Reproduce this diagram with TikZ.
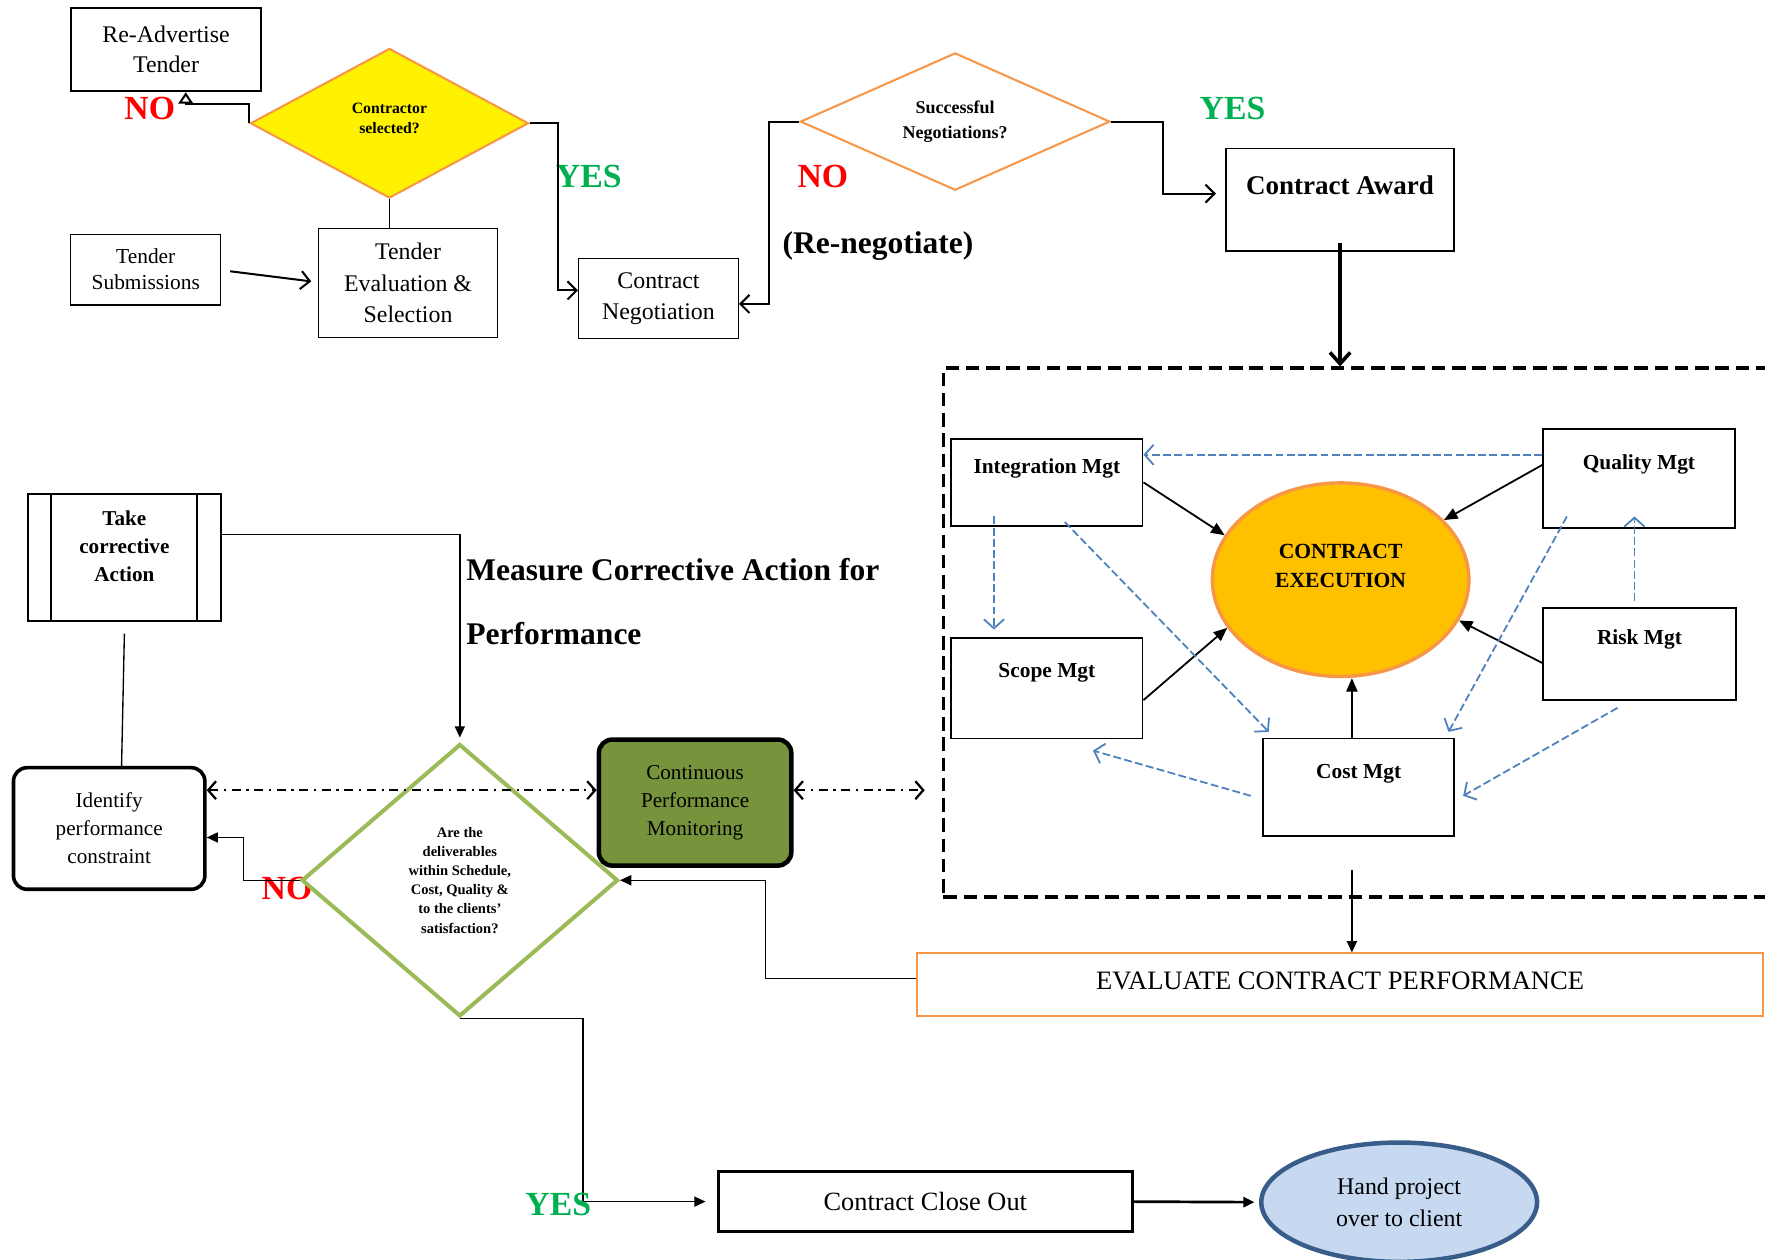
\documentclass[tikz,border=0pt]{standalone}
\usepackage{fontspec}
\setmainfont{Liberation Serif}
\usetikzlibrary{shapes.geometric,arrows.meta,calc}
\definecolor{orng}{HTML}{F79646}
\definecolor{gold}{HTML}{FFC000}
\definecolor{grn}{HTML}{00B050}
\definecolor{olive}{HTML}{77933C}
\definecolor{lgreen}{HTML}{9BBB59}
\definecolor{bluel}{HTML}{4F81BD}
\definecolor{lblue}{HTML}{C6D9F1}
\definecolor{dblue}{HTML}{385D8A}
\newcommand{\fsz}[2]{\fontsize{#1}{#2}\selectfont}
\begin{document}
\begin{tikzpicture}[x=0.5pt,y=-0.5pt,
  box/.style={draw, line width=0.8pt, inner sep=0pt, align=center},
  thinbox/.style={box, line width=0.5pt},
  txt/.style={inner sep=0pt, align=center},
  mgt/.style={txt, font=\bfseries\fsz{9.5}{11}},
  barb/.style={line width=0.9pt, -{Straight Barb[length=4pt,width=8pt]}},
  farrow/.style={line width=0.6pt, -{Triangle[length=5pt,width=4.5pt]}},
  iarrow/.style={line width=0.8pt, -{Triangle[length=6pt,width=5pt]}},
  bdash/.style={bluel, line width=0.8pt, dash pattern=on 3.5pt off 1.5pt, -{Straight Barb[length=4pt,width=9pt]}},
  ddot/.style={line width=1pt, dash pattern=on 4pt off 2.5pt on 1pt off 2.5pt, {Straight Barb[length=3.5pt,width=8pt]}-{Straight Barb[length=3.5pt,width=8pt]}},
  yes/.style={txt, text=grn, font=\bfseries\fsz{15}{15}},
  no/.style={txt, text=red, font=\bfseries\fsz{15}{15}},
]
\useasboundingbox (0,0) rectangle (1568,1119);
\clip (0,0) rectangle (1568,1119);

% ---------- top row ----------
\node[box, line width=1pt, minimum width=84.5pt, minimum height=37pt, font=\fsz{10.6}{13.5}] (readv) at (147.5,44) {Re-Advertise\\Tender};
\node[diamond, shape aspect=1.86, draw=orng, fill=yellow, line width=0.9pt, inner sep=0pt, minimum width=123.5pt, minimum height=66.5pt] (csel) at (346,109.5) {};
\node[txt, font=\bfseries\fsz{7}{9}] (cselt) at (346,105) {Contractor\\selected?};
\node[thinbox, minimum width=66.5pt, minimum height=31.5pt, font=\fsz{9.5}{11.5}] (tsub) at (129.5,239.5) {Tender\\Submissions};
\node[thinbox, minimum width=79.5pt, minimum height=48.5pt, font=\fsz{10.6}{14}] (teval) at (362.5,251.5) {Tender\\Evaluation \&\\Selection};
\node[thinbox, minimum width=71pt, minimum height=35.5pt, font=\fsz{10.6}{14}] (cneg) at (585,265.5) {Contract\\Negotiation};
\node[diamond, shape aspect=2.25, draw=orng, line width=0.9pt, inner sep=0pt, minimum width=137.5pt, minimum height=61pt, align=center, font=\bfseries\fsz{8}{11}] (sneg) at (848.5,108) {Successful\\Negotiations?};
\node[box, minimum width=101.5pt, minimum height=45.5pt] (caward) at (1190.5,177.5) {};
\node[txt, font=\bfseries\fsz{12}{14}] (cawardt) at (1190.5,165) {Contract Award};

\node[no] (no1) at (133,96) {NO};
\node[yes] (yes1) at (523,157) {YES};
\node[no] (no2) at (731,157) {NO};
\node[yes] (yes2) at (1095,96) {YES};
\node[txt, font=\bfseries\fsz{14}{16}] (reneg) at (780,219) {(Re-negotiate)};

% ---------- execution frame ----------
\node[draw, line width=1.5pt, dash pattern=on 6pt off 3pt, minimum width=381pt, minimum height=235pt, inner sep=0pt] (frame) at (1219,562) {};
\node[box, minimum width=85pt, minimum height=38.5pt] (integ) at (930,428.5) {};
\node[mgt] (integt) at (930,416) {Integration Mgt};
\node[box, minimum width=85pt, minimum height=44pt] (qual) at (1456,425) {};
\node[mgt] (qualt) at (1456,413) {Quality Mgt};
\node[box, minimum width=85pt, minimum height=44.5pt] (scope) at (930,611.5) {};
\node[mgt] (scopet) at (930,598) {Scope Mgt};
\node[box, minimum width=85.5pt, minimum height=41pt] (risk) at (1456.5,581) {};
\node[mgt] (riskt) at (1456.5,568) {Risk Mgt};
\node[box, minimum width=85pt, minimum height=43.5pt] (cost) at (1207,699.5) {};
\node[mgt] (costt) at (1207,687) {Cost Mgt};
\node[ellipse, draw=orng, fill=gold, line width=1.5pt, minimum width=114pt, minimum height=86pt, inner sep=0pt] (ce) at (1191,515) {};
\node[txt, font=\bfseries\fsz{9.6}{13}] (cet) at (1191,503) {CONTRACT\\EXECUTION};

\node[draw=orng, line width=0.9pt, minimum width=375.5pt, minimum height=28pt, inner sep=0pt] (evalb) at (1190.5,875) {};
\node[txt, font=\fsz{11.8}{14}] (evalt) at (1190.5,871) {EVALUATE CONTRACT PERFORMANCE};

% ---------- lower left ----------
\node[box, line width=1pt, minimum width=85.5pt, minimum height=56.5pt] (take) at (110.5,495.5) {};
\draw[line width=0.8pt] ([xshift=10.5pt]take.north west) -- ([xshift=10.5pt]take.south west);
\draw[line width=0.8pt] ([xshift=-11pt]take.north east) -- ([xshift=-11pt]take.south east);
\node[txt, font=\bfseries\fsz{9.4}{12.5}] (taket) at (110.5,485) {Take\\corrective\\Action};

\node[txt, anchor=west, font=\bfseries\fsz{14}{16}] (meas1) at (414,506) {Measure Corrective Action for};
\node[txt, anchor=west, font=\bfseries\fsz{14}{16}] (meas2) at (414,563) {Performance};

\node[box, rounded corners=6pt, line width=1.6pt, minimum width=85pt, minimum height=54pt, font=\fsz{9.4}{12.5}] (ident) at (97,736) {Identify\\performance\\constraint};

\node[no] (no3) at (255,789) {NO};
\node[diamond, shape aspect=1.16, draw=lgreen, fill=white, line width=1.8pt, inner sep=0pt, minimum width=140.5pt, minimum height=121pt, align=center, font=\bfseries\fsz{6.45}{8.5}] (deliv) at (408.5,782) {Are the\\deliverables\\within Schedule,\\Cost, Quality \&\\to the clients’\\satisfaction?};

\node[box, rounded corners=6pt, fill=olive, line width=2pt, minimum width=85.5pt, minimum height=56pt, font=\fsz{9.4}{12.5}] (cpm) at (617.5,713) {Continuous\\Performance\\Monitoring};

\node[box, line width=1.2pt, minimum width=184pt, minimum height=26.5pt, font=\fsz{11.7}{14}] (close) at (822,1067.5) {Contract Close Out};
\node[ellipse, draw=dblue, fill=lblue, line width=2pt, minimum width=122.5pt, minimum height=53pt, inner sep=0pt, align=center, font=\fsz{10.6}{14}] (hand) at (1243,1068) {Hand project\\over to client};

% ---------- connectors: top ----------
\draw[line width=0.9pt, -{Triangle[open,length=5pt,width=6.5pt]}] (csel.west) -- ++(0,-17) -| ([xshift=8.75pt]readv.south);
\draw[line width=0.8pt] (csel.south) -- (csel.south |- teval.north);
\draw[barb] ([xshift=4pt,yshift=-0.75pt]tsub.east) -- ([xshift=-3pt,yshift=0.75pt]teval.west);
\draw[barb] (csel.east) -- ++(25,0) |- ([yshift=3.75pt]cneg.west);
\draw[barb] (sneg.west) -- ++(-27,0) |- ([yshift=-2.25pt]cneg.east);
\draw[barb] (sneg.east) -- ++(46,0) |- ([xshift=-4pt,yshift=2.75pt]caward.west);
\draw[line width=1.6pt, -{Straight Barb[length=5pt,width=9pt]}] ([yshift=4pt]caward.south) -- (caward.south |- frame.north);

% ---------- connectors: execution ----------
\draw[iarrow] (integ.east) -- (ce.159);
\draw[iarrow] ([yshift=6pt]qual.west) -- (ce.30);
\draw[iarrow] ([yshift=-5.25pt]scope.east) -- (ce.203);
\draw[iarrow] ([yshift=-4pt]risk.west) -- (ce.341);
\coordinate (cn) at ([xshift=-3pt]cost.north);
\draw[iarrow] (cn) -- (cn |- ce.south);

\coordinate (q1) at ([yshift=10.5pt]qual.west);
\draw[bdash] (q1) -- (q1 -| integ.east);
\draw[bdash] ([xshift=-23.5pt,yshift=4.5pt]integ.south) -- ([xshift=-23.5pt,yshift=3.5pt]scope.north);
\draw[bdash] ([xshift=8pt,yshift=2pt]integ.south) -- ([xshift=3pt,yshift=2.5pt]cost.north west);
\draw[bdash] ([xshift=-32pt,yshift=5.5pt]qual.south) -- ([xshift=-3pt,yshift=2.5pt]cost.north east);
\draw[bdash] ([xshift=-2.25pt,yshift=2.5pt]risk.north) -- ([xshift=-2pt,yshift=5.5pt]qual.south);
\draw[bdash] ([xshift=-9.75pt,yshift=-3pt]risk.south) -- ([xshift=3.5pt,yshift=-3.75pt]cost.east);
\draw[bdash] ([xshift=-5pt,yshift=-3.75pt]cost.west) -- ([xshift=20.5pt,yshift=-5pt]scope.south);

\coordinate (cs) at ([xshift=-3pt,yshift=-14.5pt]cost.south);
\draw[farrow] (cs) -- (cs |- evalb.north);
\draw[farrow] ([yshift=3pt]evalb.west) -- ++(-134,0) |- (deliv.east);

% ---------- connectors: lower left ----------
\draw[farrow, shorten >=2pt] ([yshift=10.25pt]take.east) -| (deliv.north);
\draw[line width=0.6pt] ([yshift=-5pt]take.south) -- ([xshift=5.5pt]ident.north);
\coordinate (d1) at ([yshift=17pt]ident.east);
\draw[ddot] (d1) -- (d1 -| cpm.west);
\coordinate (d2) at ([yshift=5.5pt]cpm.east);
\draw[ddot, shorten >=7.5pt] (d2) -- (d2 -| frame.west);
\draw[farrow] (deliv.west) -- ++(-50,0) |- ([yshift=-4pt]ident.east);
\draw[farrow] (deliv.south) -- ++(109.5,0) |- ([xshift=-5pt]close.west);
\draw[farrow, line width=1.2pt] (close.east) -- ([xshift=-2pt]hand.west);
\node[yes] (yes3) at (496,1070) {YES};
\end{tikzpicture}
\end{document}
